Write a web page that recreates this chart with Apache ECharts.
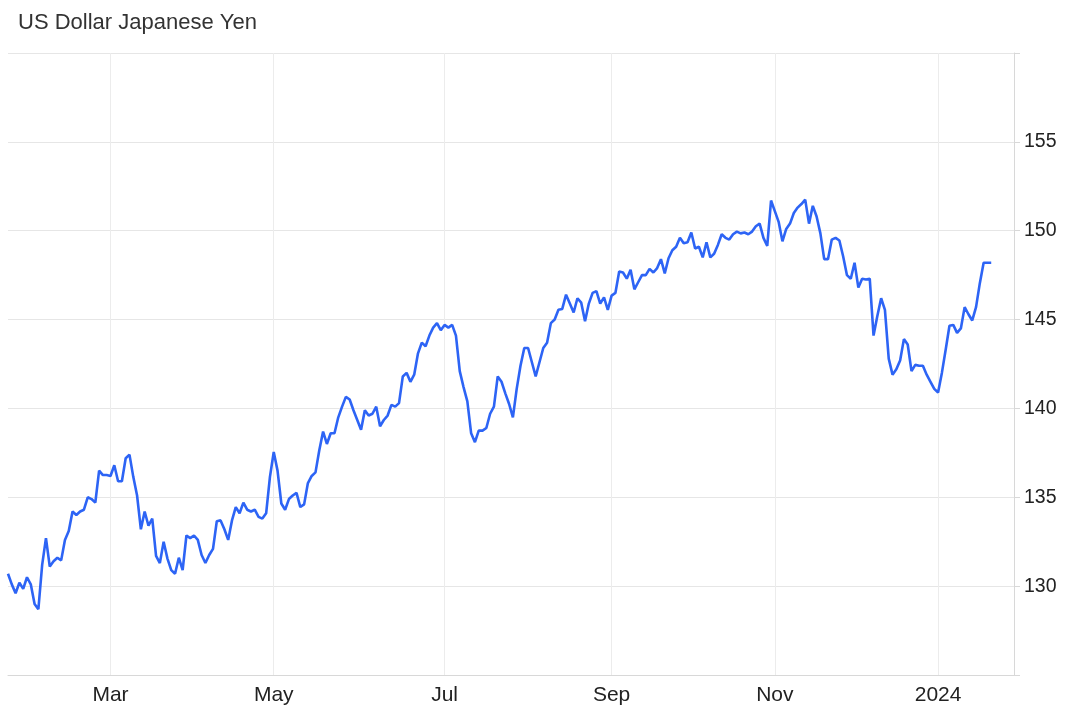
<!DOCTYPE html>
<html><head><meta charset="utf-8">
<script src="https://cdn.jsdelivr.net/npm/echarts@6/dist/echarts.min.js"></script>
<style>html,body{margin:0;padding:0;background:#fff}#c{width:1066px;height:709px}</style>
</head><body><div id="c"></div>
<script>
const chartTitle = 'US Dollar Japanese Yen';
// weekday categories span
const axisStart = [2023, 0, 23];
const axisEnd = [2024, 0, 29];
// USD/JPY closes per weekday, by month
const jan2023 = [130.7,130.1,129.6,130.2,129.85,130.5,130.1];
const feb2023 = [129.0,128.7,131.2,132.7,131.1,131.4,131.6,131.45,132.6,133.1,134.2,134.0,134.2,134.3,135.0,134.9,134.7,136.5,136.25,136.25];
const mar2023 = [136.2,136.8,135.9,135.9,137.2,137.4,136.15,135.1,133.2,134.2,133.4,133.8,131.7,131.3,132.5,131.55,130.9,130.7,131.6,130.9,132.85,132.7,132.85];
const apr2023 = [132.6,131.75,131.3,131.75,132.1,133.65,133.7,133.2,132.6,133.7,134.45,134.1,134.7,134.3,134.2,134.3,133.9,133.8,134.1,136.15];
const may2023 = [137.55,136.5,134.65,134.3,134.9,135.1,135.25,134.45,134.6,135.8,136.2,136.4,137.65,138.7,138.0,138.6,138.6,139.5,140.1,140.65,140.5,139.9,139.35];
const jun2023 = [138.8,139.9,139.6,139.7,140.1,139.0,139.35,139.6,140.2,140.1,140.3,141.8,142.0,141.5,141.9,143.1,143.7,143.5,144.1,144.55,144.8,144.4];
const jul2023 = [144.7,144.55,144.7,144.1,142.1,141.2,140.4,138.6,138.1,138.75,138.75,138.9,139.7,140.1,141.8,141.5,140.85,140.25,139.5,141.1,142.4];
const aug2023 = [143.4,143.4,142.6,141.8,142.6,143.4,143.7,144.8,145.0,145.55,145.6,146.4,145.9,145.4,146.2,145.95,144.9,145.9,146.5,146.6,145.9,146.25,145.55];
const sep2023 = [146.35,146.5,147.7,147.65,147.3,147.8,146.7,147.1,147.5,147.5,147.85,147.65,147.9,148.4,147.6,148.45,148.9,149.1,149.6,149.3,149.35];
const oct2023 = [149.9,149.0,149.1,148.5,149.35,148.5,148.7,149.2,149.8,149.6,149.5,149.8,149.95,149.85,149.9,149.8,149.95,150.25,150.4,149.6,149.15,151.7];
const nov2023 = [151.1,150.5,149.4,150.1,150.4,151.0,151.3,151.5,151.75,150.4,151.4,150.8,149.85,148.4,148.4,149.5,149.6,149.45,148.55,147.5,147.3,148.2];
const dec2023 = [146.8,147.3,147.25,147.3,144.1,145.2,146.2,145.55,142.8,141.9,142.2,142.7,143.9,143.6,142.1,142.45,142.4,142.4,141.9,141.5,141.1];
const jan2024 = [140.9,142.0,143.3,144.65,144.7,144.25,144.5,145.7,145.3,144.95,145.7,147.05,148.2,148.2,148.2];
const yMin = 125, yMax = 160, yStep = 5;
const monthNames = ['Jan','Feb','Mar','Apr','May','Jun','Jul','Aug','Sep','Oct','Nov','Dec'];
const labelMonths = [0, 2, 4, 6, 8, 10];

const values = [].concat(jan2023, feb2023, mar2023, apr2023, may2023, jun2023, jul2023, aug2023, sep2023, oct2023, nov2023, dec2023, jan2024);
const categories = [];
for (let t = Date.UTC(...axisStart); t <= Date.UTC(...axisEnd); t += 86400000) {
  const d = new Date(t); const wd = d.getUTCDay();
  if (wd !== 0 && wd !== 6) categories.push(d.toISOString().slice(0, 10));
}
function isLabelDay(i) {
  if (i === 0) return false;
  const m = +categories[i].slice(5, 7) - 1;
  const pm = +categories[i - 1].slice(5, 7) - 1;
  return m !== pm && labelMonths.indexOf(m) >= 0;
}
const chart = echarts.init(document.getElementById('c'), null, {renderer: 'canvas'});
chart.setOption({
  animation: false,
  backgroundColor: '#fff',
  title: {text: chartTitle, left: 18, top: 12, padding: 0,
    textStyle: {fontFamily: 'Liberation Sans, Arial, sans-serif', fontSize: 22, fontWeight: 'normal', color: '#333'}},
  grid: {left: 8, right: 52, top: 53, bottom: 34, containLabel: false},
  xAxis: {
    type: 'category', data: categories, boundaryGap: false,
    axisLine: {show: true, lineStyle: {color: '#d8d8d8', width: 1}},
    axisTick: {show: false},
    axisLabel: {interval: (i) => isLabelDay(i), margin: 10, color: '#222', fontSize: 21,
      fontFamily: 'Liberation Sans, Arial, sans-serif',
      formatter: (v) => { const m = +v.slice(5, 7) - 1; return m === 0 ? v.slice(0, 4) : monthNames[m]; }},
    splitLine: {show: true, interval: (i) => isLabelDay(i), lineStyle: {color: '#ececec', width: 1}}
  },
  yAxis: {
    type: 'value', position: 'right', min: yMin, max: yMax, interval: yStep,
    axisLine: {show: true, lineStyle: {color: '#d8d8d8', width: 1}},
    axisTick: {show: true, length: 6, lineStyle: {color: '#d8d8d8'}},
    axisLabel: {margin: 10, color: '#222', fontSize: 19.5, fontFamily: 'Liberation Sans, Arial, sans-serif',
      formatter: (v) => (v === yMin || v === yMax) ? '' : String(v)},
    splitLine: {show: true, lineStyle: {color: '#e6e6e6', width: 1}}
  },
  series: [{
    type: 'line', data: values, showSymbol: false, smooth: false,
    lineStyle: {color: '#2d64f5', width: 2.6}, itemStyle: {color: '#2d64f5'}
  }]
});
</script></body></html>
